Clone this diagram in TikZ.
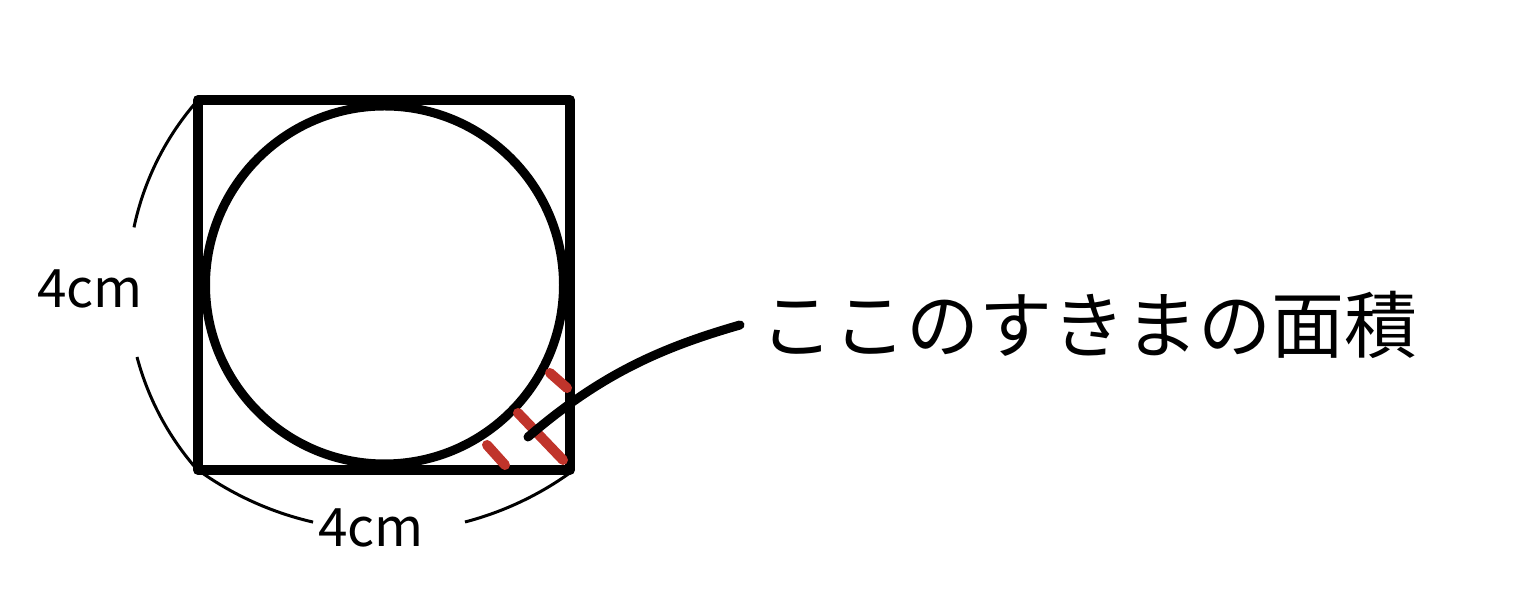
\documentclass[tikz,border=0pt]{standalone}
\usepackage{fontspec}
\newfontfamily\jpfont{Noto Sans CJK JP}
\definecolor{markred}{HTML}{C0342B}
\begin{document}
\begin{tikzpicture}[x=1pt,y=1pt,
  sq/.style={line width=10pt,line join=round,line cap=round},
  circ/.style={line width=9pt},
  tick/.style={line width=10pt,color=markred,line cap=round},
  leader/.style={line width=9pt,line cap=round},
  dim/.style={line width=3pt},
  lbl/.style={font=\jpfont\fontsize{53}{53}\selectfont,inner sep=0pt},
  jlbl/.style={font=\jpfont\fontsize{73}{73}\selectfont,inner sep=0pt}]
\useasboundingbox (0,0) rectangle (1516,593);
% square and circle
\draw[sq] (198,123) rectangle (570,493);
\draw[circ] (384.5,308) circle[radius=179];
% red marks
\draw[tick] (550,220) -- (567,205);
\draw[tick] (518,180) -- (563,133);
\draw[tick] (487,148) -- (505,128);
% labels
\node[lbl] (lside) at (90,304) {4cm};
\node[lbl] (lbot) at (371,65) {4cm};
\node[jlbl,anchor=base west] (area) at (760,240) {ここのすきまの面積};
% leader
\coordinate (lstart) at (528,156);
\coordinate (lend) at (740,268);
\draw[leader] (lstart) .. controls (600,218) and (660,245) .. (lend);
% dimension arcs
\draw[dim] (198,493) arc[start angle=138.55,end angle=168.1,radius=279.5];
\draw[dim] (137,236) arc[start angle=194.9,end angle=221.45,radius=279.5];
\draw[dim] (198,123) arc[start angle=234.2,end angle=257.1,radius=318.2];
\draw[dim] (465,71) arc[start angle=284.6,end angle=305.8,radius=318.2];
\end{tikzpicture}
\end{document}
